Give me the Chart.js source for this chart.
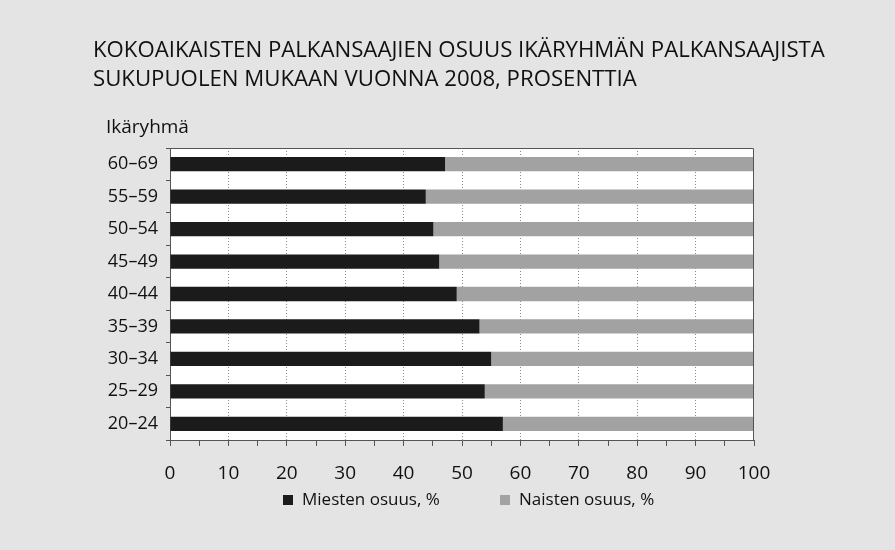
<!DOCTYPE html>
<html>
<head>
<meta charset="utf-8">
<script src="https://cdn.jsdelivr.net/npm/chart.js@4/dist/chart.umd.min.js"></script>
<style>
  html, body { margin: 0; padding: 0; background: #e4e4e4; }
  #wrap { width: 895px; height: 550px; }
</style>
</head>
<body>
<div id="wrap"><canvas id="chart" width="895" height="550"></canvas></div>
<script>
const FONT = "'Open Sans', sans-serif";

const titleLines = [
  "KOKOAIKAISTEN PALKANSAAJIEN OSUUS IKÄRYHMÄN PALKANSAAJISTA",
  "SUKUPUOLEN MUKAAN VUONNA 2008, PROSENTTIA",
];
const axisTitle = "Ikäryhmä";

// ikäryhmät alhaalta ylös
const ageGroups = ["20–24", "25–29", "30–34", "35–39", "40–44", "45–49", "50–54", "55–59", "60–69"];
const menShare = [57.0, 53.9, 55.0, 53.0, 49.1, 46.1, 45.1, 43.8, 47.1];
const womenShare = [43.0, 46.1, 45.0, 47.0, 50.9, 53.9, 54.9, 56.2, 52.9];
const seriesLabels = ["Miesten osuus, %", "Naisten osuus, %"];
const seriesColors = ["#1b1b1b", "#a2a2a2"];
const xTickLabels = [0, 10, 20, 30, 40, 50, 60, 70, 80, 90, 100];

// Valkoinen piirtoalue ja kehys
const plotBackground = {
  id: "plotBackground",
  beforeDraw(chart) {
    const { ctx, chartArea: a } = chart;
    ctx.save();
    ctx.fillStyle = "#ffffff";
    ctx.fillRect(a.left, a.top, a.right - a.left, a.bottom - a.top);
    ctx.restore();
  },
  afterDraw(chart) {
    const { ctx, chartArea: a } = chart;
    ctx.save();
    ctx.strokeStyle = "#555";
    ctx.lineWidth = 1;
    ctx.beginPath();
    ctx.moveTo(a.left, a.top + 0.5);
    ctx.lineTo(a.right - 0.5, a.top + 0.5);
    ctx.lineTo(a.right - 0.5, a.bottom);
    ctx.stroke();
    ctx.restore();
  },
};

// Otsikko ja akselin nimi
const titleText = {
  id: "titleText",
  afterDraw(chart) {
    const ctx = chart.ctx;
    ctx.save();
    ctx.fillStyle = "#111";
    ctx.textBaseline = "alphabetic";
    ctx.textAlign = "left";
    // sovita otsikon leveys
    ctx.font = "100px " + FONT;
    const size = (732 / ctx.measureText(titleLines[0]).width) * 100;
    ctx.font = size.toFixed(2) + "px " + FONT;
    ctx.fillText(titleLines[0], 93, 57);
    ctx.fillText(titleLines[1], 93, 86);
    ctx.font = "19px " + FONT;
    ctx.fillText(axisTitle, 106, 133);
    ctx.restore();
  },
};

// Selite
const legendRow = {
  id: "legendRow",
  afterDraw(chart) {
    const ctx = chart.ctx;
    const startX = [283, 500];
    ctx.save();
    ctx.font = "17px " + FONT;
    ctx.textBaseline = "middle";
    chart.data.datasets.forEach((ds, i) => {
      ctx.fillStyle = ds.backgroundColor;
      ctx.fillRect(startX[i], 495, 10, 10);
      ctx.fillStyle = "#111";
      ctx.fillText(ds.label, startX[i] + 19, 500);
    });
    ctx.restore();
  },
};

new Chart(document.getElementById("chart"), {
  type: "bar",
  data: {
    labels: ageGroups,
    datasets: [
      {
        label: seriesLabels[0],
        data: menShare,
        backgroundColor: seriesColors[0],
        categoryPercentage: 1,
        barPercentage: 0.44,
      },
      {
        label: seriesLabels[1],
        data: womenShare,
        backgroundColor: seriesColors[1],
        categoryPercentage: 1,
        barPercentage: 0.44,
      },
    ],
  },
  options: {
    indexAxis: "y",
    responsive: false,
    animation: false,
    layout: {
      padding: { left: 80, right: 141, top: 148, bottom: 50 },
    },
    scales: {
      x: {
        stacked: true,
        min: 0,
        max: 100,
        afterFit: (s) => { s.height = 60; },
        ticks: {
          stepSize: 5,
          autoSkip: false,
          maxRotation: 0,
          padding: 16,
          color: "#111",
          font: { family: FONT, size: 19 },
          callback: (v) => (xTickLabels.includes(v) ? String(v) : ""),
        },
        grid: {
          tickLength: 6,
          tickColor: "#555",
          color: (c) =>
            c.tick && c.tick.value % 10 === 0 && c.tick.value > 0 && c.tick.value < 100
              ? "#8a8a8a"
              : "rgba(0,0,0,0)",
        },
        border: { display: true, color: "#555", dash: [1, 2] },
      },
      y: {
        stacked: true,
        reverse: true,
        afterFit: (s) => { s.width = 90; },
        ticks: {
          padding: 8,
          color: "#111",
          font: { family: FONT, size: 18 },
        },
        grid: {
          offset: true,
          drawOnChartArea: false,
          tickLength: 4,
          tickColor: "#555",
        },
        border: { display: true, color: "#555" },
      },
    },
    plugins: {
      legend: { display: false },
      tooltip: { enabled: false },
    },
  },
  plugins: [plotBackground, titleText, legendRow],
});
</script>
</body>
</html>
